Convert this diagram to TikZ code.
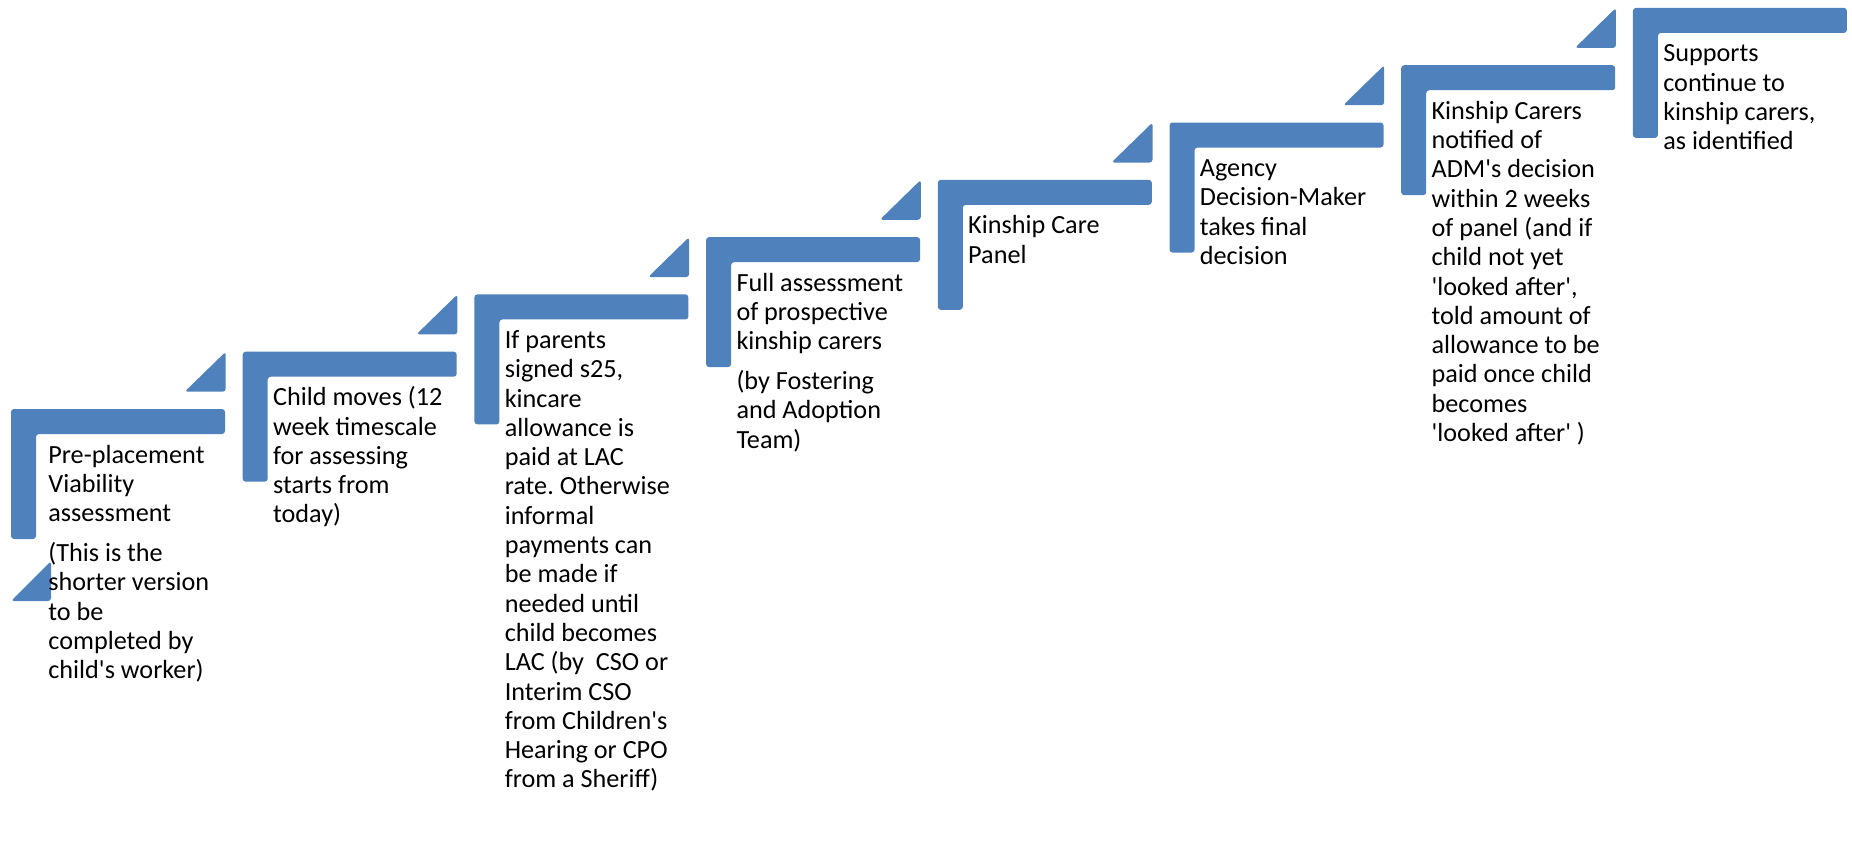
\documentclass[tikz,border=0pt]{standalone}
\usepackage{fontspec}
\setmainfont{Carlito}[Ligatures=TeXOff]
\frenchspacing
\definecolor{stepblue}{HTML}{4F81BD}
\tikzset{
  stepshape/.style={fill=stepblue, rounded corners=1.5pt},
  steptext/.style={anchor=base west, inner sep=0pt, font=\fontsize{13.1pt}{14.65pt}\selectfont},
}
\newcommand{\steptxt}[1]{\parbox[t]{110pt}{\raggedright\frenchspacing\setlength{\parskip}{5.25pt}#1}}
\begin{document}
\begin{tikzpicture}[x=0.5pt,y=-0.5pt]
\useasboundingbox (0,0) rectangle (1852,848);
% L-shaped steps
\foreach \k in {0,...,7}{
  \pgfmathsetmacro\xo{11+231.7*\k}
  \pgfmathsetmacro\yo{409-57.3*\k}
  \fill[stepshape] (\xo,\yo) -- ++(214,0) -- ++(0,25) -- ++(-189,0) -- ++(0,105) -- ++(-25,0) -- cycle;
}
% triangles before steps
\foreach \k in {1,...,7}{
  \pgfmathsetmacro\xo{11+231.7*\k}
  \pgfmathsetmacro\yo{409-57.3*\k}
  \fill[stepshape] (\xo-17,\yo) -- (\xo-17,\yo+40) -- (\xo-58,\yo+40) -- cycle;
}
\fill[stepshape] (51,561) -- (51,601) -- (11,601) -- cycle;
% texts
\node[steptext] (s1) at (48,463) {\steptxt{Pre-placement\\Viability\\assessment\par
(This is the\\shorter version\\to be\\completed by\\child's worker)}};
\node[steptext] (s2) at (272.7,405.7) {\steptxt{Child moves (12\\week timescale\\for assessing\\starts from\\today)}};
\node[steptext] (s3) at (504.4,348.4) {\steptxt{If parents\\signed s25,\\kincare\\allowance is\\paid at LAC\\rate. Otherwise\\informal\\payments can\\be made if\\needed until\\child becomes\\LAC (by\ \ CSO or\\Interim CSO\\from Children's\\Hearing or CPO\\from a Sheriff)}};
\node[steptext] (s4) at (736.1,291.1) {\steptxt{Full assessment\\of prospective\\kinship carers\par
(by Fostering\\and Adoption\\Team)}};
\node[steptext] (s5) at (967.8,233.8) {\steptxt{Kinship Care\\Panel}};
\node[steptext] (s6) at (1199.5,176.5) {\steptxt{Agency\\Decision-Maker\\takes final\\decision}};
\node[steptext] (s7) at (1431.2,119.2) {\steptxt{Kinship Carers\\notified of\\ADM's decision\\within 2 weeks\\of panel (and if\\child not yet\\'looked after',\\told amount of\\allowance to be\\paid once child\\becomes\\'looked after' )}};
\node[steptext] (s8) at (1662.9,61.9) {\steptxt{Supports\\continue to\\kinship carers,\\as identified}};
\end{tikzpicture}
\end{document}
